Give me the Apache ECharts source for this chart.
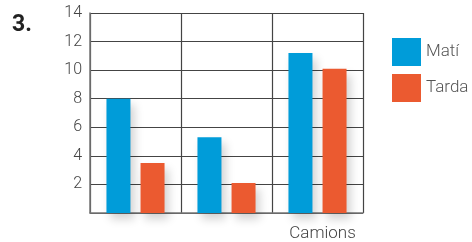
<!DOCTYPE html>
<html>
<head>
<meta charset="utf-8">
<script src="https://cdn.jsdelivr.net/npm/echarts@6/dist/echarts.min.js"></script>
<style>
  html, body { margin: 0; padding: 0; background: #fff; }
  #main { width: 472px; height: 242px; }
</style>
</head>
<body>
<div id="main"></div>
<script>
var categories = ['', '', 'Camions'];
var mati = [8, 5.3, 11.2];
var tarda = [3.5, 2.1, 10.1];
var yTicks = [2, 4, 6, 8, 10, 12, 14];

var myChart = echarts.init(document.getElementById('main'));
var barShadow = {
	shadowBlur: 10,
	shadowColor: 'rgba(0,0,0,0.18)',
	shadowOffsetX: 4,
	shadowOffsetY: 6
};
var option = {
	animation: false,
	textStyle: { fontFamily: 'Roboto' },
	graphic: [{
		type: 'text',
		left: 12,
		top: 14,
		style: { text: '3.', font: 'bold 23px Roboto', fill: '#222' }
	}],
	legend: {
		orient: 'vertical',
		left: 392,
		top: 38,
		padding: 0,
		itemWidth: 29,
		itemHeight: 28,
		itemGap: 8,
		icon: 'rect',
		textStyle: { fontSize: 17, color: '#555', fontWeight: 300 },
		data: ['Matí', 'Tarda']
	},
	grid: { left: 90, top: 13, width: 273, height: 200 },
	xAxis: {
		type: 'category',
		data: categories,
		axisTick: { show: false },
		axisLine: { lineStyle: { color: '#777', width: 1.5 } },
		splitLine: { show: true, lineStyle: { color: '#444', width: 1.2 } },
		axisLabel: { color: '#444', fontSize: 17, fontWeight: 300, margin: 12, padding: [0, 0, 0, 10] }
	},
	yAxis: {
		type: 'value',
		min: 0,
		max: 14,
		interval: 2,
		axisLine: { show: true, lineStyle: { color: '#777', width: 1.5 } },
		axisTick: { show: false },
		splitLine: { lineStyle: { color: '#444', width: 1.2 } },
		axisLabel: {
			color: '#444', fontSize: 16, fontWeight: 300, margin: 8,
			formatter: function (v) { return yTicks.indexOf(v) >= 0 ? String(v) : ''; }
		}
	},
	series: [{
		name: 'Matí',
		type: 'bar',
		barWidth: 24,
		barGap: '42%',
		data: mati,
		itemStyle: Object.assign({ color: '#009cd9' }, barShadow)
	}, {
		name: 'Tarda',
		type: 'bar',
		barWidth: 24,
		data: tarda,
		itemStyle: Object.assign({ color: '#eb5a30' }, barShadow)
	}]
};
myChart.setOption(option);
</script>
</body>
</html>
